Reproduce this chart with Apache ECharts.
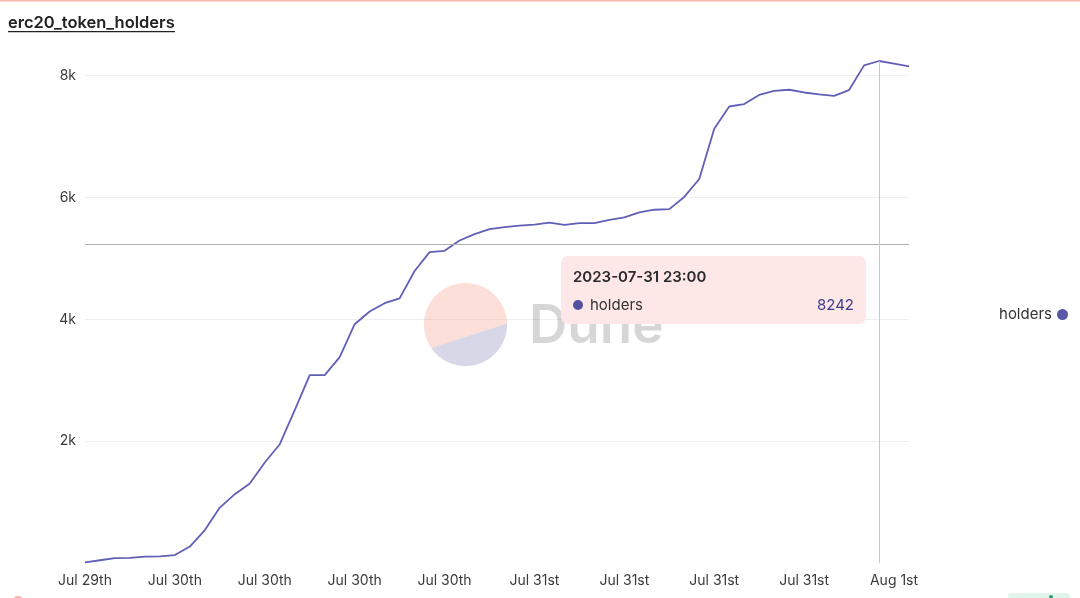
<!DOCTYPE html>
<html>
<head>
<meta charset="utf-8">
<script src="https://cdn.jsdelivr.net/npm/echarts@6/dist/echarts.min.js"></script>
<style>
html,body{margin:0;padding:0;background:#fff;}
#chart{width:1080px;height:598px;}
</style>
</head>
<body>
<div id="chart"></div>
<script>
// ---- data ----
const titleText = 'erc20_token_holders';
const seriesName = 'holders';
const categories = [
 '2023-07-29 18:00','2023-07-29 19:00','2023-07-29 20:00','2023-07-29 21:00','2023-07-29 22:00','2023-07-29 23:00',
 '2023-07-30 00:00','2023-07-30 01:00','2023-07-30 02:00','2023-07-30 03:00','2023-07-30 04:00','2023-07-30 05:00',
 '2023-07-30 06:00','2023-07-30 07:00','2023-07-30 08:00','2023-07-30 09:00','2023-07-30 10:00','2023-07-30 11:00',
 '2023-07-30 12:00','2023-07-30 13:00','2023-07-30 14:00','2023-07-30 15:00','2023-07-30 16:00','2023-07-30 17:00',
 '2023-07-30 18:00','2023-07-30 19:00','2023-07-30 20:00','2023-07-30 21:00','2023-07-30 22:00','2023-07-30 23:00',
 '2023-07-31 00:00','2023-07-31 01:00','2023-07-31 02:00','2023-07-31 03:00','2023-07-31 04:00','2023-07-31 05:00',
 '2023-07-31 06:00','2023-07-31 07:00','2023-07-31 08:00','2023-07-31 09:00','2023-07-31 10:00','2023-07-31 11:00',
 '2023-07-31 12:00','2023-07-31 13:00','2023-07-31 14:00','2023-07-31 15:00','2023-07-31 16:00','2023-07-31 17:00',
 '2023-07-31 18:00','2023-07-31 19:00','2023-07-31 20:00','2023-07-31 21:00','2023-07-31 22:00','2023-07-31 23:00',
 '2023-08-01 00:00','2023-08-01 01:00'
];
const holders = [
 10, 45, 80, 85, 105, 110,
 130, 270, 540, 910, 1130, 1305,
 1650, 1950, 2510, 3085, 3085, 3380,
 3920, 4130, 4265, 4345, 4795, 5105,
 5125, 5295, 5400, 5480, 5515, 5540,
 5555, 5590, 5550, 5580, 5580, 5635,
 5675, 5755, 5800, 5810, 6010, 6305,
 7130, 7495, 7535, 7685, 7750, 7770,
 7725, 7695, 7670, 7765, 8170, 8242,
 8200, 8155
];
const yTicks = [0, 2000, 4000, 6000, 8000];
const tooltipIndex = 53;
const crosshairValue = 5240;

// ---- helpers ----
const MONTHS = ['Jan','Feb','Mar','Apr','May','Jun','Jul','Aug','Sep','Oct','Nov','Dec'];
function ordinal(d){
  if (d % 100 >= 11 && d % 100 <= 13) return d + 'th';
  const r = d % 10;
  return d + (r === 1 ? 'st' : r === 2 ? 'nd' : r === 3 ? 'rd' : 'th');
}
function fmtDate(s){
  const m = parseInt(s.slice(5,7),10), d = parseInt(s.slice(8,10),10);
  return MONTHS[m-1] + ' ' + ordinal(d);
}
function kfmt(v){ return (v === 0 || yTicks.indexOf(v) < 0) ? '' : (v/1000) + 'k'; }

// watermark segment polygon (geometry only)
function segmentPoints(cx, cy, r, a0, a1, n){
  const pts = [];
  for (let i = 0; i <= n; i++){
    const a = (a0 + (a1 - a0) * i / n) * Math.PI / 180;
    pts.push([cx + r*Math.cos(a), cy + r*Math.sin(a)]);
  }
  return pts;
}

const FONT = 'Inter, "Noto Sans", sans-serif';
const LINE_COLOR = '#5957a6';
const WX = 465.5, WY = 324.5, WR = 41.5;

const chart = echarts.init(document.getElementById('chart'), null, {renderer:'canvas'});
const option = {
  animation: false,
  grid: {left: 85, right: 171, top: 61, bottom: 35, containLabel: false},
  xAxis: {
    type: 'category',
    data: categories,
    boundaryGap: false,
    axisLine: {show: false},
    axisTick: {show: false},
    axisLabel: {
      interval: 5,
      margin: 11,
      color: '#3a3a3a',
      fontSize: 14,
      fontFamily: FONT,
      formatter: fmtDate
    },
    splitLine: {show: false}
  },
  yAxis: {
    type: 'value',
    min: yTicks[0],
    max: 'dataMax',
    interval: yTicks[1] - yTicks[0],
    axisLine: {show: false},
    axisTick: {show: false},
    axisLabel: {color: '#3a3a3a', fontSize: 14, fontFamily: FONT, margin: 9, formatter: kfmt, showMaxLabel: false},
    splitLine: {show: true, showMaxLine: false, showMinLine: false, lineStyle: {color: '#efefef', width: 1}}
  },
  legend: {
    orient: 'vertical',
    right: 7,
    top: 302,
    align: 'right',
    icon: 'circle',
    itemWidth: 11,
    itemHeight: 11,
    itemGap: 10,
    textStyle: {color: '#333', fontSize: 15, fontFamily: FONT},
    data: [seriesName]
  },
  tooltip: {
    trigger: 'axis',
    triggerOn: 'none',
    alwaysShowContent: true,
    transitionDuration: 0,
    showDelay: 0,
    position: [561, 256],
    backgroundColor: '#fde8e7',
    borderWidth: 0,
    padding: [10, 12, 8, 12],
    extraCssText: 'box-shadow:none;border-radius:7px;width:305px;box-sizing:border-box;',
    axisPointer: {
      type: 'cross',
      label: {show: false},
      crossStyle: {color: '#b0b0b0', width: 1, type: 'solid'},
      lineStyle: {color: '#c8c8c8', width: 1, type: 'solid'}
    },
    formatter: function(params){
      const p = params[0];
      return '<div style="font-family:Inter,sans-serif;">' +
        '<div style="font-size:15px;font-weight:600;color:#2a2a2a;line-height:22px;">' + p.axisValue + '</div>' +
        '<div style="display:flex;justify-content:space-between;align-items:center;margin-top:6px;line-height:22px;font-size:15px;">' +
        '<span style="color:#333;"><span style="display:inline-block;width:10px;height:10px;border-radius:5px;background:#5351a0;margin-right:7px;vertical-align:0px;"></span>' + p.seriesName + '</span>' +
        '<span style="color:#3b3a8c;">' + p.value + '</span></div></div>';
    }
  },
  graphic: [
    {type:'rect', shape:{x:0, y:0, width:1080, height:1.5}, style:{fill:'#f7b5ab'}, z:10},
    {type:'text', x:8, y:23, style:{text:titleText, font:'600 16.5px ' + FONT, fill:'#222', textVerticalAlign:'middle'}},
    {type:'rect', shape:{x:8, y:31, width:167, height:1.2}, style:{fill:'#222'}},
    // watermark
    {type:'polygon', shape:{points: segmentPoints(WX, WY, WR, 145.5, 358.5, 80)}, style:{fill:'rgba(247,160,140,0.34)'}, z:1, silent:true},
    {type:'polygon', shape:{points: segmentPoints(WX, WY, WR, -1.5, 145.5, 60)}, style:{fill:'rgba(150,150,195,0.38)'}, z:1, silent:true},
    {type:'text', x:529, y:327, style:{text:'Dune', font:'600 53px ' + FONT, fill:'rgba(0,0,0,0.16)', textVerticalAlign:'middle'}, z:1, silent:true},
    // page footer bits
    {type:'circle', shape:{cx:18, cy:602, r:6}, style:{fill:'#f6b3aa'}, silent:true},
    {type:'rect', shape:{x:1008, y:593, width:62, height:10, r:3}, style:{fill:'#e2f5eb'}, silent:true},
    {type:'circle', shape:{cx:1051, cy:597, r:2}, style:{fill:'#2f9e6c'}, silent:true}
  ],
  series: [{
    name: seriesName,
    type: 'line',
    data: holders,
    symbol: 'none',
    showSymbol: false,
    itemStyle: {color: LINE_COLOR},
    lineStyle: {color: LINE_COLOR, width: 1.8},
    z: 3
  }]
};
chart.setOption(option);
const px = chart.convertToPixel({gridIndex: 0}, [tooltipIndex, crosshairValue]);
chart.dispatchAction({type: 'showTip', x: px[0], y: px[1]});
</script>
</body>
</html>
